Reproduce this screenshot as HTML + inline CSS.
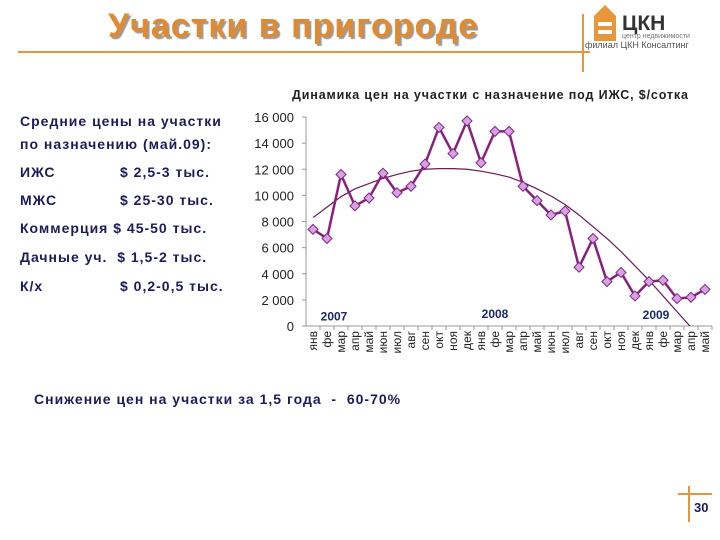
<!DOCTYPE html>
<html><head><meta charset="utf-8"><style>
body{margin:0;width:720px;height:540px;background:#fff;position:relative;overflow:hidden;font-family:"Liberation Sans",sans-serif}
.t{position:absolute;white-space:nowrap}
.p{position:absolute;white-space:nowrap;font-size:14px;font-weight:bold;color:#1c1c5c;letter-spacing:1px;line-height:16px}
</style></head><body>
<div class="t" style="left:108px;top:7px;font-size:34px;font-weight:bold;color:#e38a2e;text-shadow:2px 2px 1px #9a9a9a;letter-spacing:1px">Участки в пригороде</div>
<div style="position:absolute;left:18px;top:51px;width:572px;height:2px;background:#e8963a"></div>
<div style="position:absolute;left:582px;top:14px;width:2px;height:58px;background:#e8963a"></div>
<svg style="position:absolute;left:592px;top:3px" width="26" height="40"><path d="M2 38 V13 L13 2 L24 13 V38 Z" fill="#e8963a"/><rect x="6" y="19" width="14" height="4" fill="#fff"/><rect x="6" y="27" width="14" height="4" fill="#fff"/></svg>
<div class="t" style="left:622px;top:12px;font-size:21px;font-weight:bold;color:#333">ЦКН</div>
<div class="t" style="left:622px;top:33px;font-size:7px;color:#777">центр недвижимости</div>
<div class="t" style="left:585px;top:40px;font-size:9px;color:#555">филиал ЦКН Консалтинг</div>
<div class="t" style="left:292px;top:88px;font-size:12.5px;font-weight:bold;color:#222;letter-spacing:0.85px">Динамика цен на участки с назначение под ИЖС, $/сотка</div>
<div>
<div class="p" style="left:20px;top:113px">Средние цены на участки</div>
<div class="p" style="left:20px;top:136px">по назначению (май.09):</div>
<div class="p" style="left:20px;top:164px">ИЖС</div><div class="p" style="left:120px;top:164px">$ 2,5-3 тыс.</div>
<div class="p" style="left:20px;top:192px">МЖС</div><div class="p" style="left:120px;top:192px">$ 25-30 тыс.</div>
<div class="p" style="left:20px;top:220px">Коммерция $ 45-50 тыс.</div>
<div class="p" style="left:20px;top:249px">Дачные уч.&nbsp; $ 1,5-2 тыс.</div>
<div class="p" style="left:20px;top:278px">К/х</div><div class="p" style="left:120px;top:278px">$ 0,2-0,5 тыс.</div>
</div>
<svg id="ch" style="position:absolute;left:0;top:0" width="720" height="540"></svg>
<div class="p" style="left:34px;top:391px">Снижение цен на участки за 1,5 года&nbsp; -&nbsp; 60-70%</div>
<div style="position:absolute;left:678px;top:493px;width:34px;height:2px;background:#e8963a"></div>
<div style="position:absolute;left:688px;top:486px;width:2px;height:36px;background:#e8963a"></div>
<div class="t" style="left:694px;top:500px;font-size:13px;font-weight:bold;color:#1c1c5c">30</div>
<script>
const categories=["янв","фе","мар","апр","май","июн","июл","авг","сен","окт","ноя","дек","янв","фе","мар","апр","май","июн","июл","авг","сен","окт","ноя","дек","янв","фе","мар","апр","май"];
const prices=[7400,6700,11600,9200,9800,11700,10200,10700,12400,15200,13200,15700,12500,14900,14900,10700,9600,8500,8800,4500,6700,3400,4100,2300,3400,3500,2100,2200,2800];
const trend=[8300,9100,9900,10500,10900,11300,11600,11850,12000,12050,12050,12000,11850,11650,11400,11000,10500,9950,9300,8500,7600,6700,5700,4600,3500,2300,1100,-100,-1400];
const yTicks=[0,2000,4000,6000,8000,10000,12000,14000,16000];
const yTickLabels=["0","2 000","4 000","6 000","8 000","10 000","12 000","14 000","16 000"];
const years=[{label:"2007",i:1.5,v:800},{label:"2008",i:13,v:1000},{label:"2009",i:24.5,v:900}];
const L=306,R=712,T=117,B=326;
const svg=document.getElementById('ch'),NS="http://www.w3.org/2000/svg";
const cw=(R-L)/categories.length;
const x=i=>L+cw*(i+0.5), y=v=>B-(v/16000)*(B-T);
function mk(t,a){const e=document.createElementNS(NS,t);for(const k in a)e.setAttribute(k,a[k]);svg.appendChild(e);return e;}
let e=mk('line',{x1:L,y1:T,x2:L,y2:B,stroke:'#999'});

e=mk('line',{x1:L,y1:B,x2:R,y2:B,stroke:'#999'});

yTicks.forEach((v,k)=>{
 e=mk('line',{x1:L-4,y1:y(v),x2:L,y2:y(v),stroke:'#999'});
 
 e=mk('text',{x:L-12,y:y(v)+5,'text-anchor':'end','font-size':13,fill:'#222','font-family':'Liberation Sans'});
 e.textContent=yTickLabels[k];
 
});
categories.forEach((c,i)=>{
 e=mk('line',{x1:L+cw*(i+1),y1:B,x2:L+cw*(i+1),y2:B+4,stroke:'#999'});
 
 e=mk('text',{x:0,y:0,'text-anchor':'end','font-size':12,fill:'#222','font-family':'Liberation Sans',transform:`translate(${x(i)+4},${B+5}) rotate(-90)`});
 e.textContent=c;
 
});
mk('defs',{}).innerHTML='<clipPath id="cp"><rect x="306" y="100" width="406" height="226"/></clipPath>';
e=mk('polyline',{points:trend.map((v,i)=>x(i)+','+y(v)).join(' '),fill:'none',stroke:'#6a1a5a','stroke-width':1.2,'clip-path':'url(#cp)'});

e=mk('polyline',{points:prices.map((v,i)=>x(i)+','+y(v)).join(' '),fill:'none',stroke:'#8a1f7e','stroke-width':2.5});

prices.forEach((v,i)=>{
 const cx=x(i),cy=y(v);
 e=mk('polygon',{points:`${cx},${cy-5} ${cx+5},${cy} ${cx},${cy+5} ${cx-5},${cy}`,fill:'#d9a0e8',stroke:'#7a2a78','stroke-width':1});
 
});
years.forEach(o=>{
 e=mk('text',{x:x(o.i),y:y(o.v)+5,'text-anchor':'middle','font-size':12,'font-weight':'bold',fill:'#1a2a6a','font-family':'Liberation Sans'});
 e.textContent=o.label;
 
});
</script>
</body></html>
